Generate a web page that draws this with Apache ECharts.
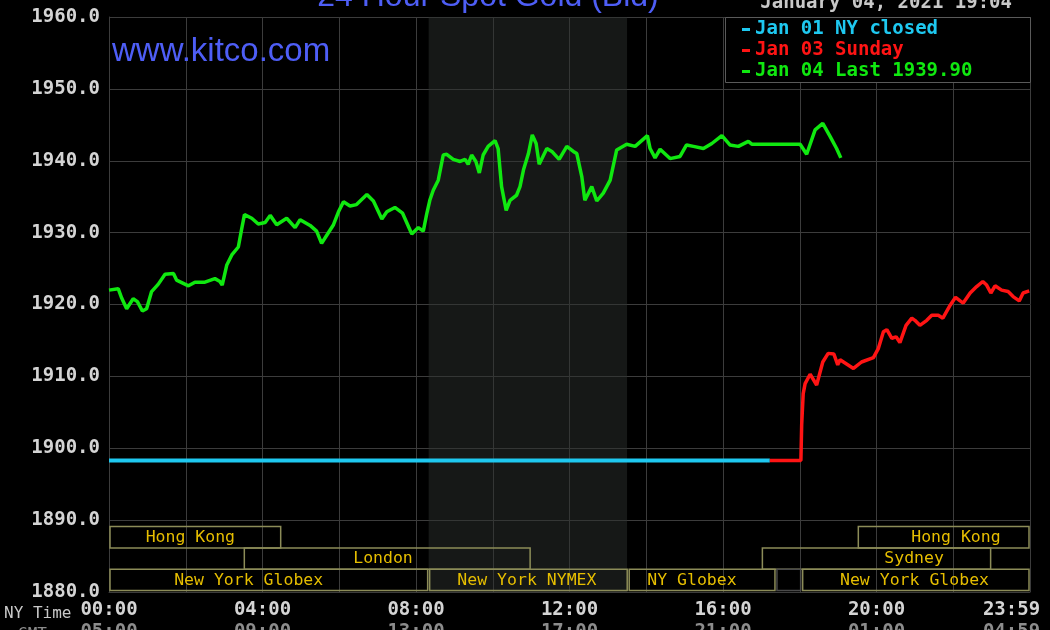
<!DOCTYPE html>
<html>
<head>
<meta charset="utf-8">
<script src="https://cdn.jsdelivr.net/npm/echarts@6/dist/echarts.min.js"></script>
<style>html,body{margin:0;padding:0;background:#000}#c{width:1050px;height:630px}</style>
</head>
<body>
<div id="c"></div>
<script>
// ---- data ----
const nyTickLabels = ['00:00','04:00','08:00','12:00','16:00','20:00','23:59'];
const gmtTickLabels = ['05:00','09:00','13:00','17:00','21:00','01:00','04:59'];
const yTicks = [1880, 1890, 1900, 1910, 1920, 1930, 1940, 1950, 1960];

const cyanName = 'Jan 01 NY closed';
const cyanT = [0, 17.22];
const cyanV = [1898.3, 1898.3];

const redName = 'Jan 03 Sunday';
const redT = [17.22,18.03,18.05,18.09,18.14,18.27,18.44,18.60,18.74,18.89,18.99,19.05,19.40,19.61,19.92,20.05,20.18,20.27,20.40,20.51,20.61,20.77,20.92,21.00,21.13,21.31,21.44,21.61,21.73,21.92,22.06,22.18,22.26,22.44,22.61,22.77,22.87,22.98,23.09,23.26,23.43,23.56,23.72,23.82,23.98];
const redV = [1898.3,1898.3,1903.2,1907.6,1909.0,1910.3,1908.8,1912.0,1913.2,1913.1,1911.6,1912.3,1911.1,1912.0,1912.6,1913.9,1916.2,1916.5,1915.3,1915.5,1914.7,1917.1,1918.1,1917.8,1917.1,1917.8,1918.5,1918.5,1918.1,1919.9,1921.0,1920.5,1920.2,1921.6,1922.5,1923.2,1922.7,1921.6,1922.6,1922.0,1921.8,1921.1,1920.5,1921.6,1921.9];

const greenName = 'Jan 04 Last 1939.90';
const greenT = [0.00,0.24,0.33,0.46,0.63,0.74,0.87,0.98,1.11,1.28,1.46,1.68,1.76,2.07,2.24,2.50,2.76,2.89,2.95,3.07,3.20,3.37,3.46,3.53,3.72,3.89,4.07,4.20,4.37,4.63,4.85,4.98,5.24,5.41,5.54,5.67,5.85,5.98,6.11,6.28,6.45,6.72,6.89,7.11,7.24,7.45,7.65,7.89,8.06,8.19,8.28,8.36,8.45,8.58,8.71,8.80,8.97,9.15,9.28,9.36,9.45,9.56,9.65,9.75,9.88,10.06,10.14,10.23,10.35,10.45,10.62,10.71,10.80,10.93,11.03,11.13,11.21,11.41,11.54,11.73,11.93,12.10,12.19,12.32,12.40,12.58,12.71,12.88,13.06,13.23,13.49,13.71,14.03,14.10,14.23,14.36,14.62,14.88,15.05,15.23,15.49,15.71,15.97,16.18,16.40,16.66,16.75,18.01,18.18,18.40,18.60,18.79,18.96,19.07];
const greenV = [1922.0,1922.2,1920.9,1919.4,1920.8,1920.4,1919.1,1919.4,1921.8,1922.8,1924.2,1924.3,1923.4,1922.6,1923.1,1923.1,1923.6,1923.2,1922.7,1925.5,1926.9,1928.0,1930.6,1932.5,1932.0,1931.2,1931.4,1932.4,1931.1,1932.0,1930.7,1931.8,1931.0,1930.2,1928.5,1929.6,1931.1,1932.9,1934.3,1933.7,1933.9,1935.3,1934.4,1931.9,1932.9,1933.5,1932.7,1929.8,1930.7,1930.2,1932.6,1934.5,1935.9,1937.3,1940.8,1940.9,1940.2,1939.9,1940.2,1939.5,1940.8,1939.9,1938.3,1940.8,1942.0,1942.8,1941.7,1936.4,1933.1,1934.5,1935.2,1936.4,1938.7,1941.0,1943.6,1942.4,1939.5,1941.7,1941.3,1940.2,1942.0,1941.3,1941.0,1937.8,1934.5,1936.4,1934.4,1935.5,1937.3,1941.5,1942.3,1942.0,1943.5,1941.7,1940.4,1941.6,1940.3,1940.6,1942.2,1942.0,1941.7,1942.4,1943.5,1942.2,1942.0,1942.7,1942.3,1942.3,1940.9,1944.3,1945.2,1943.4,1941.7,1940.4];

// NYMEX shaded window (hours)
const shadeStart = 8.33, shadeEnd = 13.5;

// trading sessions: name, start, end, row (1 top .. 3 bottom), label centre hour
const sessNames = ['Hong Kong','Hong Kong','London','Sydney','New York Globex','New York NYMEX','NY Globex','','New York Globex'];
const sessStart = [0, 19.5, 3.5, 17.0, 0, 8.33, 13.53, 17.38, 18.05];
const sessEnd   = [4.5, 24, 11.0, 23.0, 8.33, 13.53, 17.38, 18.05, 24];
const sessRow   = [1, 1, 2, 2, 3, 3, 3, 3, 3];
const sessLabelAt = [2.12, 22.07, 7.14, 20.98, 3.64, 10.89, 15.19, 17.7, 20.99];

// ---- chart ----
const zip = (t, v) => t.map((x, i) => [x, v[i]]);
const mono = '"DejaVu Sans Mono", "Liberation Mono", monospace';
const chart = echarts.init(document.getElementById('c'), null, {renderer: 'canvas'});

const sessData = sessNames.map((n, i) => [sessStart[i], sessEnd[i], sessRow[i], sessLabelAt[i], n]);

chart.setOption({
  backgroundColor: '#000',
  animation: false,
  grid: {left: 109, top: 17, width: 921, height: 575, containLabel: false, outerBoundsMode: 'none'},
  xAxis: {
    type: 'value', min: 0, max: 24, interval: 2,
    axisLine: {show: true, lineStyle: {color: '#3c3c3c'}},
    axisTick: {show: false},
    splitLine: {show: true, lineStyle: {color: '#3c3c3c', width: 1}},
    axisLabel: {
      margin: 7,
      formatter: v => {
        if (v % 4 !== 0) return '';
        const k = v / 4;
        if (v === 24) return '{al|' + nyTickLabels[k] + '}\n{bl|' + gmtTickLabels[k] + '}';
        return '{a|' + nyTickLabels[k] + '}\n{b|' + gmtTickLabels[k] + '}';
      },
      rich: {
        a: {fontFamily: mono, fontWeight: 'bold', fontSize: 19, color: '#d4d4d4', lineHeight: 22},
        b: {fontFamily: mono, fontWeight: 'bold', fontSize: 19, color: '#8c8c8c', lineHeight: 22},
        al: {fontFamily: mono, fontWeight: 'bold', fontSize: 19, color: '#d4d4d4', lineHeight: 22, padding: [0, 37, 0, 0]},
        bl: {fontFamily: mono, fontWeight: 'bold', fontSize: 19, color: '#8c8c8c', lineHeight: 22, padding: [0, 37, 0, 0]}
      }
    }
  },
  yAxis: {
    type: 'value', min: yTicks[0], max: yTicks[yTicks.length - 1], interval: 10,
    axisLine: {show: true, lineStyle: {color: '#3c3c3c'}},
    axisTick: {show: false},
    splitLine: {show: true, lineStyle: {color: '#3c3c3c', width: 1}},
    axisLabel: {
      margin: 9, fontFamily: mono, fontWeight: 'bold', fontSize: 19, color: '#d4d4d4',
      formatter: v => v.toFixed(1)
    }
  },
  legend: {
    left: 737, top: 14, orient: 'vertical', z: 6,
    itemWidth: 8, itemHeight: 3, itemGap: 0, icon: 'rect',
    selectedMode: false,
    data: [
      {name: cyanName, textStyle: {color: '#1ec8f0'}},
      {name: redName, textStyle: {color: '#ff1414'}},
      {name: greenName, textStyle: {color: '#10e810'}}
    ],
    textStyle: {fontFamily: mono, fontWeight: 'bold', fontSize: 19, lineHeight: 21, padding: [0, 0, 0, 0]}
  },
  graphic: {
    elements: [
      {type: 'rect', z: 5, shape: {x: 725.5, y: 17.5, width: 305, height: 65},
       style: {fill: '#000', stroke: '#5a5a5a', lineWidth: 1}},
      {type: 'text', z: 5, x: 488, y: -3,
       style: {text: '24 Hour Spot Gold (Bid)', fill: '#4e5ef6', font: '32px "Liberation Sans", Arial, sans-serif', textAlign: 'center', textVerticalAlign: 'middle'}},
      {type: 'text', z: 5, x: 112, y: 52,
       style: {text: 'www.kitco.com', fill: '#4e5ef6', font: '33px "Liberation Sans", Arial, sans-serif', textAlign: 'left', textVerticalAlign: 'middle'}},
      {type: 'text', z: 5, x: 1012, y: 3,
       style: {text: 'January 04, 2021 19:04', fill: '#c8c8c8', font: 'bold 19px ' + mono, textAlign: 'right', textVerticalAlign: 'middle'}},
      {type: 'text', z: 5, x: 4, y: 614,
       style: {text: 'NY Time', fill: '#c8c8c8', font: '16px ' + mono, textAlign: 'left', textVerticalAlign: 'middle'}},
      {type: 'text', z: 5, x: 18, y: 635,
       style: {text: 'GMT', fill: '#8c8c8c', font: '16px ' + mono, textAlign: 'left', textVerticalAlign: 'middle'}}
    ]
  },
  series: [
    {
      type: 'line', data: [], z: -1, silent: true,
      markArea: {silent: true, itemStyle: {color: 'rgba(44,48,46,0.5)'},
        data: [[{xAxis: shadeStart}, {xAxis: shadeEnd}]]}
    },
    {
      type: 'custom', name: 'sessions', z: 1, silent: true,
      data: sessData,
      renderItem: (params, api) => {
        const s = api.value(0), e = api.value(1), row = api.value(2), lab = api.value(3);
        const name = sessNames[params.dataIndex];
        const p0 = api.coord([s, 1880]);
        const p1 = api.coord([e, 1880]);
        const pl = api.coord([lab, 1880]);
        const rowH = 21.3;
        const bottom = p0[1] - 1.5 - (3 - row) * rowH;
        const top = bottom - rowH;
        const stroke = name ? '#8c8c58' : '#4a4a4a';
        const children = [{
          type: 'rect',
          shape: {x: p0[0] + 1, y: top, width: (p1[0] - 1) - (p0[0] + 1), height: rowH},
          style: {fill: 'none', stroke: stroke, lineWidth: 1.5}
        }];
        if (name) children.push({
          type: 'text', x: pl[0], y: top + rowH / 2 + 0.5,
          style: {text: name, fill: '#e6be00', font: '16.5px ' + mono, textAlign: 'center', textVerticalAlign: 'middle'}
        });
        return {type: 'group', children: children};
      }
    },
    {
      type: 'line', name: cyanName, data: zip(cyanT, cyanV), symbol: 'none', z: 3,
      itemStyle: {color: '#1ec8f0'}, lineStyle: {color: '#1ec8f0', width: 4}
    },
    {
      type: 'line', name: redName, data: zip(redT, redV), symbol: 'none', z: 3,
      itemStyle: {color: '#ff1414'}, lineStyle: {color: '#ff1414', width: 3.5}
    },
    {
      type: 'line', name: greenName, data: zip(greenT, greenV), symbol: 'none', z: 3,
      itemStyle: {color: '#10e810'}, lineStyle: {color: '#10e810', width: 3.5}
    }
  ]
});
</script>
</body>
</html>
